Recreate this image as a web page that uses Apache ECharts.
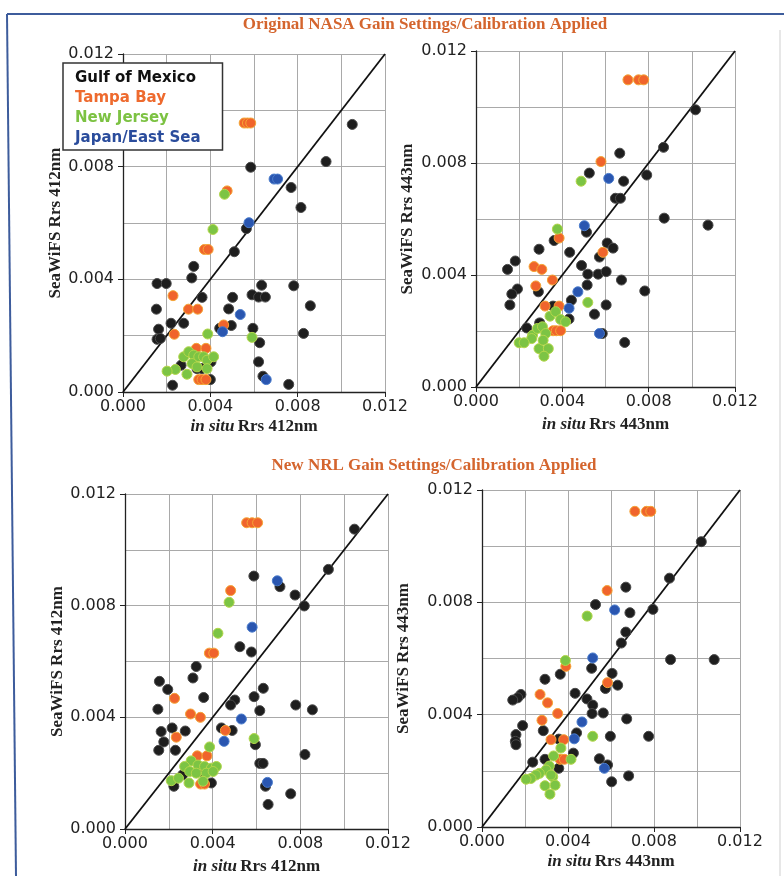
<!DOCTYPE html>
<html>
<head>
<meta charset="utf-8">
<title>SeaWiFS vs in situ Rrs</title>
<script src="https://cdn.jsdelivr.net/npm/echarts@6/dist/echarts.min.js"></script>
<style>
  html, body { margin: 0; padding: 0; background: #fff; }
  #chart { width: 784px; height: 876px; }
</style>
</head>
<body>
<div id="chart"></div>
<script>
// all values are in units of 0.001 (axis labels divide back)
let regions = ['Gulf of Mexico', 'Tampa Bay', 'New Jersey', 'Japan/East Sea']
let bands = ['412nm', '443nm', '412nm', '443nm']
let oneToOne = [[0, 0], [12, 12]]

// top left: original NASA, 412nm
let gulf1 = [[10.5,9.5],[5.85,7.98],[9.3,8.18],[7.7,7.26],[8.15,6.55],[5.65,5.8],[5.1,4.98],[3.24,4.46],[3.15,4.05],[1.56,3.85],[1.98,3.85],[6.35,3.79],[7.82,3.77],[3.62,3.36],[5.02,3.36],[5.91,3.45],[6.21,3.37],[6.52,3.37],[1.53,2.94],[4.84,2.95],[8.58,3.06],[2.2,2.44],[2.78,2.44],[1.63,2.23],[1.56,1.87],[1.71,1.9],[4.43,2.26],[4.96,2.36],[5.95,2.26],[8.27,2.08],[6.26,1.75],[2.66,0.95],[3.39,0.83],[3.62,0.83],[4.03,1.07],[6.21,1.07],[4.0,0.44],[6.41,0.56],[2.27,0.24],[7.59,0.27]]
let tampa1 = [[5.55,9.55],[5.7,9.55],[5.85,9.55],[4.77,7.14],[3.73,5.06],[3.9,5.06],[2.29,3.42],[3.0,2.94],[3.42,2.94],[4.61,2.38],[2.35,2.05],[3.36,1.55],[3.8,1.55],[3.47,0.44],[3.62,0.44],[3.8,0.44]]
let jersey1 = [[4.65,7.02],[4.12,5.77],[3.88,2.06],[5.91,1.94],[2.78,1.25],[3.01,1.43],[3.24,1.31],[3.47,1.25],[3.69,1.25],[3.85,1.13],[4.15,1.25],[3.16,1.01],[3.39,0.89],[2.4,0.8],[2.02,0.74],[2.93,0.63],[3.85,0.83]]
let japan1 = [[6.92,7.56],[7.08,7.56],[5.77,6.01],[5.37,2.75],[4.56,2.14],[6.56,0.44]]

// top right: original NASA, 443nm
let gulf2 = [[10.17,9.9],[8.69,8.56],[6.66,8.35],[5.25,7.64],[7.91,7.57],[6.84,7.35],[6.46,6.74],[6.69,6.74],[8.72,6.03],[10.75,5.78],[5.12,5.53],[3.62,5.23],[6.08,5.14],[6.35,4.96],[2.92,4.92],[5.72,4.64],[4.34,4.81],[1.82,4.5],[1.46,4.2],[4.89,4.34],[5.18,4.03],[5.66,4.03],[6.03,4.12],[6.74,3.82],[5.15,3.64],[1.92,3.5],[1.66,3.32],[2.89,3.4],[7.82,3.43],[1.57,2.93],[4.42,3.1],[3.57,2.89],[6.03,2.93],[5.49,2.6],[4.31,2.43],[2.95,2.29],[2.35,2.11],[5.85,1.91],[6.89,1.59]]
let tampa2 = [[7.04,10.97],[7.53,10.97],[7.77,10.97],[5.79,8.05],[3.85,5.32],[5.88,4.81],[2.69,4.3],[3.05,4.2],[3.54,3.82],[2.77,3.61],[3.2,2.89],[3.85,2.89],[3.57,2.01],[3.72,2.01],[3.92,2.01]]
let jersey2 = [[4.87,7.35],[3.77,5.64],[5.18,3.02],[3.43,2.53],[3.69,2.69],[3.92,2.41],[4.15,2.33],[2.62,1.85],[2.85,2.09],[3.08,2.15],[3.23,1.91],[2.58,1.73],[2.0,1.58],[2.23,1.58],[2.92,1.37],[3.35,1.37],[3.11,1.67],[3.15,1.1]]
let japan2 = [[6.15,7.45],[5.02,5.76],[4.72,3.4],[4.31,2.81],[5.72,1.91]]

// bottom left: new NRL, 412nm
let gulf3 = [[10.47,10.74],[9.28,9.3],[5.88,9.06],[7.07,8.68],[7.76,8.38],[8.18,7.99],[5.24,6.53],[5.77,6.34],[3.25,5.82],[3.1,5.41],[1.57,5.29],[1.95,5.0],[6.31,5.04],[3.59,4.71],[5.89,4.74],[5.01,4.62],[4.82,4.44],[7.79,4.44],[8.55,4.27],[1.5,4.29],[6.15,4.24],[2.15,3.62],[1.65,3.49],[2.75,3.51],[4.4,3.62],[4.89,3.53],[5.95,3.02],[1.77,3.12],[1.54,2.82],[2.3,2.82],[8.21,2.67],[3.48,2.06],[6.15,2.35],[6.3,2.35],[2.63,1.94],[3.94,1.65],[6.41,1.53],[2.23,1.53],[7.56,1.26],[6.53,0.88]]
let tampa3 = [[5.55,10.97],[5.8,10.97],[6.05,10.97],[4.82,8.54],[3.85,6.3],[4.05,6.3],[2.26,4.68],[2.99,4.12],[3.44,4.0],[4.58,3.53],[2.34,3.29],[3.3,2.62],[3.74,2.62],[3.45,1.61],[3.63,1.61]]
let jersey3 = [[4.75,8.12],[4.24,7.01],[5.89,3.24],[3.86,2.94],[3.02,2.44],[2.72,2.24],[3.33,2.29],[3.63,2.24],[3.94,2.18],[4.17,2.24],[2.95,2.06],[3.25,2.0],[3.71,2.0],[4.02,2.06],[2.11,1.73],[2.44,1.82],[2.92,1.65],[3.56,1.71]]
let japan3 = [[6.95,8.89],[5.8,7.23],[5.31,3.94],[4.52,3.14],[6.5,1.67]]

// bottom right: new NRL, 443nm
let gulf4 = [[10.2,10.16],[8.72,8.86],[6.69,8.54],[5.28,7.92],[7.95,7.75],[6.88,7.63],[6.69,6.94],[6.48,6.55],[8.77,5.96],[10.8,5.96],[5.1,5.65],[3.64,5.44],[6.05,5.47],[2.93,5.26],[5.74,4.93],[6.31,5.05],[4.33,4.76],[1.81,4.72],[1.66,4.6],[1.43,4.52],[4.88,4.56],[5.15,4.34],[5.12,4.04],[5.64,4.06],[6.73,3.85],[1.89,3.61],[2.85,3.43],[4.4,3.35],[1.58,3.29],[1.55,3.05],[1.58,2.93],[5.97,3.23],[7.75,3.23],[3.57,3.13],[4.25,2.63],[2.93,2.41],[2.36,2.31],[5.46,2.43],[5.84,2.21],[3.57,2.09],[6.03,1.61],[6.82,1.82]]
let tampa4 = [[7.11,11.24],[7.65,11.24],[7.85,11.24],[5.82,8.42],[3.9,5.72],[5.84,5.14],[2.7,4.72],[3.05,4.42],[3.52,4.04],[2.79,3.8],[3.21,3.11],[3.8,3.11],[3.63,2.41],[3.83,2.41]]
let jersey4 = [[4.89,7.51],[3.88,5.93],[5.15,3.23],[3.67,2.81],[3.33,2.53],[4.14,2.41],[3.13,2.17],[2.98,2.03],[2.67,1.91],[2.51,1.85],[2.28,1.73],[2.05,1.7],[3.29,1.79],[3.21,1.85],[2.93,1.47],[3.4,1.49],[3.16,1.17]]
let japan4 = [[6.17,7.73],[5.15,6.02],[4.65,3.74],[4.29,3.14],[5.69,2.09]]

let panels = [
  [gulf1, tampa1, jersey1, japan1],
  [gulf2, tampa2, jersey2, japan2],
  [gulf3, tampa3, jersey3, japan3],
  [gulf4, tampa4, jersey4, japan4]
]

let colors = ['#1e1e1e', '#f0642c', '#7cc444', '#2a56b0']
let borders = ['#4a4a4a', '#f5a535', '#b4d64a', '#4a7ccc']
let legendColors = ['#111', '#ee6a2e', '#7cc242', '#2a4c9c']

let grids = [
  { left: 123, top: 54, width: 262, height: 338 },
  { left: 476, top: 51, width: 259, height: 336 },
  { left: 125, top: 494, width: 263, height: 338 },
  { left: 482, top: 490, width: 258, height: 337 }
]
let xGap = [26, 29, 29, 26]
let yGap = [50, 60, 58, 70]

let serif = 'Liberation Serif'
let gridLine = { show: true, lineStyle: { color: '#a9a9a9', width: 1 } }

function axisCommon(i) {
  return {
    type: 'value',
    gridIndex: i,
    min: 0,
    max: 12,
    interval: 4,
    nameLocation: 'middle',
    axisLine: { onZero: false, lineStyle: { color: '#222', width: 1.3 } },
    axisTick: { show: true, length: 5, lineStyle: { color: '#222' } },
    axisLabel: {
      formatter: v => (v / 1000).toFixed(3),
      fontFamily: 'DejaVu Sans',
      fontSize: 16,
      color: '#222'
    },
    splitLine: gridLine,
    minorTick: { show: false, splitNumber: 2 },
    minorSplitLine: gridLine
  }
}

let xAxis = grids.map((g, i) => {
  let a = axisCommon(i)
  a.name = '{i|in situ} {b|Rrs ' + bands[i] + '}'
  a.nameGap = xGap[i]
  a.nameTextStyle = {
    rich: {
      i: { fontFamily: serif, fontStyle: 'italic', fontWeight: 'bold', fontSize: 17, color: '#222' },
      b: { fontFamily: serif, fontWeight: 'bold', fontSize: 17, color: '#222' }
    }
  }
  a.axisLabel.margin = 7
  return a
})

let yAxis = grids.map((g, i) => {
  let a = axisCommon(i)
  a.name = 'SeaWiFS Rrs ' + bands[i]
  a.nameGap = yGap[i]
  a.nameTextStyle = { fontFamily: serif, fontWeight: 'bold', fontSize: 17, color: '#222' }
  a.axisLabel.margin = 9
  return a
})

let series = []
panels.forEach((sets, i) => {
  series.push({
    type: 'line',
    xAxisIndex: i,
    yAxisIndex: i,
    data: oneToOne,
    symbol: 'none',
    silent: true,
    z: 2,
    lineStyle: { color: '#111', width: 1.8 }
  })
  sets.forEach((d, k) => {
    series.push({
      type: 'scatter',
      name: regions[k],
      xAxisIndex: i,
      yAxisIndex: i,
      data: d,
      symbolSize: 10,
      z: 3,
      itemStyle: { color: colors[k], borderColor: borders[k], borderWidth: 1, opacity: 1 }
    })
  })
})

let titleStyle = { font: 'bold 17px "Liberation Serif"', fill: '#d4652e', align: 'center', verticalAlign: 'middle' }

let option = {
  backgroundColor: '#fff',
  animation: false,
  grid: grids,
  xAxis: xAxis,
  yAxis: yAxis,
  legend: {
    orient: 'vertical',
    left: 63,
    top: 63,
    selectedMode: false,
    icon: 'none',
    itemWidth: 0,
    itemHeight: 14,
    itemGap: 5,
    padding: [8, 22, 4, 7],
    borderColor: '#333',
    borderWidth: 1.5,
    backgroundColor: '#fff',
    textStyle: { fontFamily: 'DejaVu Sans', fontWeight: 'bold', fontSize: 15 },
    data: regions.map((n, k) => ({ name: n, textStyle: { color: legendColors[k] } }))
  },
  graphic: [
    { type: 'line', shape: { x1: 7, y1: 14, x2: 784, y2: 14 }, style: { stroke: '#3d5c9c', lineWidth: 2 } },
    { type: 'line', shape: { x1: 7, y1: 14, x2: 16, y2: 876 }, style: { stroke: '#3d5c9c', lineWidth: 2 } },
    { type: 'line', shape: { x1: 780, y1: 30, x2: 780, y2: 876 }, style: { stroke: '#cfcfcf', lineWidth: 1 } },
    { type: 'text', x: 425, y: 25, style: Object.assign({ text: 'Original NASA Gain Settings/Calibration Applied' }, titleStyle) },
    { type: 'text', x: 434, y: 466, style: Object.assign({ text: 'New NRL Gain Settings/Calibration Applied' }, titleStyle) }
  ],
  series: series
}

let myChart = echarts.init(document.getElementById('chart'))
myChart.setOption(option)
</script>
</body>
</html>
